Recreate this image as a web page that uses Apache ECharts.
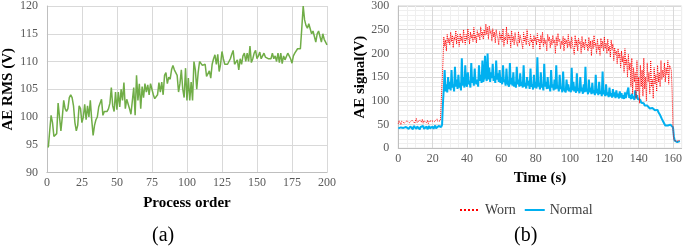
<!DOCTYPE html>
<html>
<head>
<meta charset="utf-8">
<script src="https://cdn.jsdelivr.net/npm/echarts@6/dist/echarts.min.js"></script>
<style>
  html, body { margin: 0; padding: 0; background: #fff; }
  #chart { width: 685px; height: 249px; }
</style>
</head>
<body>
<div id="chart"></div>
<script>
// (a) AE RMS per process order, 1..200
var rmsValues = [
  94.5,97.5,100.3,99,96.5,96.8,97,102.5,102.3,97.5,
  100,103,101.5,101,101.5,103.5,104,103.5,102,99,
  97.5,98.5,102,101.5,99,100,102.3,99.5,102,100,
  103,99.5,96.7,98.5,99.5,100,101.8,101.5,103.2,100.3,
  101,100.8,101,101.5,102.5,105.3,102,101,104.5,101.3,
  104.5,101.8,105,103,106.2,101.5,103.2,103,101.5,100.5,
  100.3,105.3,100.3,107.5,103,106,101.5,105.5,103.5,106,
  104.5,105.8,104,106,106.3,104,103.3,103,104,106.2,
  104.5,106.3,104,107.5,108,106,107.2,106.8,108.5,109.3,
  108.5,108.8,107.5,104.5,106,108.5,105,103.5,108.8,103,
  107,103,106.3,103,110,108.5,105,108,110,110.3,
  109.3,109.5,109.5,107.3,107.5,108.3,107,109.5,110.5,111.2,
  109.5,111.3,108.2,109.5,111.8,110.5,109.5,109.3,109.5,110,
  110.5,111.3,112,109.5,109.5,110.3,108.5,110.5,109.5,111,
  111.5,110,111.5,110,112.8,109.8,110.5,111.5,112,110.5,
  111,111.7,110.5,111,111.5,110.8,111,110.5,110.2,110.5,
  111.5,110.5,111,110,111.5,109.8,111.5,109.6,111,110.3,
  110.5,111.5,111,110.5,109.7,111,111.5,111.2,112.3,112,
  112.3,116,120,117.5,116.5,116,116.8,116.5,115,115.5,
  114.5,113.5,115,115.5,115.3,113.5,115,114,113.5,113
];

// (b) AE signal, sampled every 0.5 s from 0 to 164 s
var timeStep = 0.5;
var wornValues = [
  52,58,55,50,57,54,60,53,56,51,58,55,62,54,57,52,59,55,61,53,
  57,63,54,58,52,60,56,55,61,53,58,56,62,54,59,52,57,60,55,58,
  54,61,56,59,53,62,57,55,60,58,58,61,180,235,215,228,205,240,222,232,
  218,245,225,238,212,235,228,248,220,240,230,215,242,226,236,222,250,232,219,240,
  228,252,235,220,245,232,240,225,255,230,238,222,248,235,243,228,256,236,245,230,
  250,238,262,240,255,230,258,242,248,226,252,235,245,222,250,238,232,218,246,230,
  240,225,252,215,235,228,256,220,242,230,238,212,248,225,236,218,244,228,232,215,
  246,222,238,230,226,210,244,225,236,218,250,228,232,216,240,224,230,210,238,226,
  234,218,242,225,230,208,238,222,245,215,232,220,228,205,240,226,235,212,230,218,
  238,222,228,200,235,216,242,225,230,210,226,218,236,205,232,220,228,212,240,215,
  226,210,235,218,222,198,238,215,228,205,232,220,225,200,236,212,224,208,230,215,
  220,205,234,212,226,195,228,210,238,215,222,200,230,208,218,196,232,212,226,205,
  235,210,222,200,230,205,215,192,228,208,220,185,212,198,205,178,210,190,200,170,
  205,182,195,160,210,175,188,150,198,165,180,130,190,115,170,140,160,105,185,120,
  150,95,175,130,165,110,190,125,150,100,180,140,160,115,185,130,145,105,170,135,
  155,120,175,140,160,130,185,145,165,150,180,140,170,155,185,135,175,178,165,120,
  40,18,15,17,14,16,15,17,15
];
var normalValues = [
  42,45,40,44,47,41,43,46,40,45,43,48,41,44,46,42,45,40,47,43,
  44,41,46,43,48,40,45,42,44,47,41,45,43,46,40,44,47,42,45,43,
  46,41,44,48,42,45,43,47,44,46,45,50,95,125,165,120,135,118,150,125,
  140,122,165,128,135,120,172,130,145,125,155,128,138,122,190,132,150,128,175,135,
  130,160,135,142,128,180,138,150,132,168,140,135,145,130,175,142,155,138,185,140,
  148,195,150,142,200,145,170,140,160,148,178,142,152,138,185,145,158,140,165,138,
  150,135,175,140,145,132,168,138,142,130,180,135,148,132,160,130,140,128,172,135,
  145,130,158,132,140,128,175,130,138,126,150,132,142,125,168,130,135,124,155,128,
  140,126,192,130,138,124,160,128,135,122,178,130,140,125,150,126,132,120,165,128,
  135,122,145,124,175,126,132,120,155,125,130,118,162,124,128,118,145,122,135,120,
  128,118,170,122,140,120,130,117,158,121,126,116,150,120,128,115,135,118,172,120,
  125,114,145,118,128,114,138,116,122,112,155,116,125,112,140,115,120,110,162,114,
  122,110,135,112,118,108,128,110,116,107,125,109,118,106,122,108,115,105,120,107,
  116,105,112,104,118,106,110,103,128,106,112,104,115,105,110,102,122,106,112,104,
  104,100,102,96,98,93,95,90,92,88,90,86,88,84,86,82,85,81,84,80,
  83,79,81,76,78,70,72,62,65,55,52,48,50,46,48,45,47,50,46,48,
  44,25,16,14,15,13,16,14,15
];

var serif = 'Liberation Serif';

function pairs(vals, start, step) {
  var out = [];
  for (var i = 0; i < vals.length; i++) out.push([start + i * step, vals[i]]);
  return out;
}

var chart = echarts.init(document.getElementById('chart'), null, { renderer: 'canvas' });

var labelStyle = { fontFamily: serif, fontSize: 12, color: '#595959' };
var nameStyle = { fontFamily: serif, fontSize: 15, fontWeight: 'bold', color: '#000' };

chart.setOption({
  animation: false,
  textStyle: { fontFamily: serif },
  grid: [
    { left: 42, top: 5, width: 285, height: 167.5 },
    { left: 398.3, top: 4, width: 285.5, height: 144.3, show: true, borderColor: '#d0d0d0', borderWidth: 1 }
  ],
  xAxis: [
    {
      gridIndex: 0, type: 'value', min: 0, max: 200, interval: 25,
      name: 'Process order', nameLocation: 'middle', nameGap: 23, nameTextStyle: nameStyle,
      axisLine: { lineStyle: { color: '#bfbfbf' } },
      axisTick: { show: false },
      axisLabel: Object.assign({ margin: 4 }, labelStyle),
      splitLine: { show: true, lineStyle: { color: '#d9d9d9' } }
    },
    {
      gridIndex: 1, type: 'value', min: 0, max: 165, interval: 5,
      name: 'Time (s)', nameLocation: 'middle', nameGap: 22, nameTextStyle: nameStyle,
      axisLine: { lineStyle: { color: '#bfbfbf' } },
      axisTick: { show: false },
      axisLabel: Object.assign({
        margin: 5,
        formatter: function (v) { return (v % 20 === 0 && v <= 160) ? v : ''; }
      }, labelStyle),
      splitLine: { show: true, lineStyle: { color: ['#d9d9d9', '#efefef', '#efefef', '#efefef'] } }
    }
  ],
  yAxis: [
    {
      gridIndex: 0, type: 'value', min: 90, max: 120, interval: 5,
      name: 'AE RMS (V)', nameLocation: 'middle', nameGap: 25, nameTextStyle: nameStyle,
      axisLine: { show: true, lineStyle: { color: '#bfbfbf' } },
      axisTick: { show: false },
      axisLabel: Object.assign({ margin: 9 }, labelStyle),
      splitLine: { show: true, lineStyle: { color: '#d9d9d9' } }
    },
    {
      gridIndex: 1, type: 'value', min: 0, max: 300, interval: 10,
      name: 'AE signal(V)', nameLocation: 'middle', nameGap: 28, nameTextStyle: nameStyle,
      axisLine: { show: true, lineStyle: { color: '#bfbfbf' } },
      axisTick: { show: false },
      axisLabel: Object.assign({
        margin: 9,
        formatter: function (v) { return v % 50 === 0 ? v : ''; }
      }, labelStyle),
      splitLine: { show: true, lineStyle: { color: ['#d9d9d9', '#efefef', '#efefef', '#efefef', '#efefef'] } }
    }
  ],
  legend: {
    data: ['Worn', 'Normal'],
    left: 454, top: 198,
    itemWidth: 20, itemHeight: 10, itemGap: 8,
    itemStyle: { opacity: 0 },
    textStyle: { fontFamily: serif, fontSize: 14, color: '#404040' }
  },
  graphic: [
    { type: 'text', left: 152, top: 226, style: { text: '(a)', font: '20px ' + serif, fill: '#000' } },
    { type: 'text', left: 514, top: 226, style: { text: '(b)', font: '20px ' + serif, fill: '#000' } }
  ],
  series: [
    {
      name: 'AE RMS', type: 'line', xAxisIndex: 0, yAxisIndex: 0,
      data: pairs(rmsValues, 1, 1), showSymbol: false, symbol: 'none',
      lineStyle: { color: '#70ad47', width: 1.5 }, itemStyle: { color: '#70ad47' }
    },
    {
      name: 'Normal', type: 'line', xAxisIndex: 1, yAxisIndex: 1,
      data: pairs(normalValues, 0, timeStep), showSymbol: false, symbol: 'none',
      lineStyle: { color: '#00b0f0', width: 2 }, itemStyle: { color: '#00b0f0' }
    },
    {
      name: 'Worn', type: 'line', xAxisIndex: 1, yAxisIndex: 1,
      data: pairs(wornValues, 0, timeStep), showSymbol: false, symbol: 'none',
      lineStyle: { color: '#ff0000', width: 1, type: 'dotted' }, itemStyle: { color: '#ff0000' }
    }
  ]
});
</script>
</body>
</html>
